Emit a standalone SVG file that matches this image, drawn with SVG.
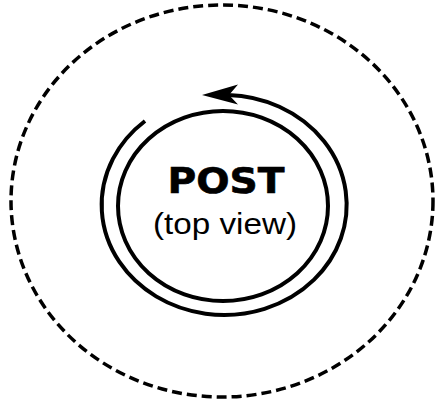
<svg xmlns="http://www.w3.org/2000/svg" width="436" height="403" viewBox="0 0 436 403">
<style>
.line{fill:none;stroke:#000;stroke-width:4}
.dash{fill:none;stroke:#000;stroke-width:3.5;stroke-dasharray:10 5}
.t1{font-family:"DejaVu Sans","Liberation Sans",sans-serif;font-weight:900;font-size:36px;fill:#000;stroke:#000;stroke-width:0.6}
.t2{font-family:"Liberation Sans",Arial,sans-serif;font-size:29px;fill:#000}
</style>
<rect width="436" height="403" fill="#fff"/>
<g id="boundary">
<ellipse class="dash" cx="222" cy="201" rx="211" ry="196"/>
</g>
<g id="post">
<ellipse class="line" cx="223" cy="206" rx="105" ry="95"/>
<text class="t1" x="226" y="193" text-anchor="middle" textLength="117" lengthAdjust="spacingAndGlyphs">POST</text>
<text class="t2" x="225" y="234" text-anchor="middle" textLength="144" lengthAdjust="spacingAndGlyphs">(top view)</text>
</g>
<g id="connectors">
<path class="line" d="M 145 121 A 122.5 110 0 1 0 228 95"/>
<path d="M 202 95 L 238 84.5 L 229 95 L 238 104.5 Z" fill="#000"/>
</g>
</svg>
